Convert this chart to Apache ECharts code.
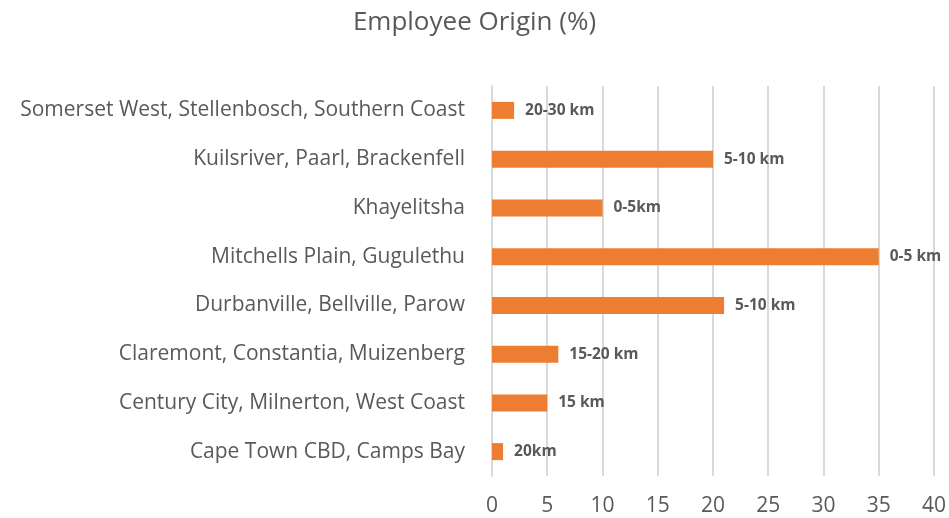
<!DOCTYPE html>
<html>
<head>
<meta charset="utf-8">
<script src="https://cdn.jsdelivr.net/npm/echarts@6/dist/echarts.min.js"></script>
<style>
  html, body { margin: 0; padding: 0; background: #fff; }
  #chart { width: 949px; height: 518px; }
</style>
</head>
<body>
<div id="chart"></div>
<script>
// Areas listed bottom to top (category axis starts at the bottom)
const areas = [
  'Cape Town CBD, Camps Bay',
  'Century City, Milnerton, West Coast',
  'Claremont, Constantia, Muizenberg',
  'Durbanville, Bellville, Parow',
  'Mitchells Plain, Gugulethu',
  'Khayelitsha',
  'Kuilsriver, Paarl, Brackenfell',
  'Somerset West, Stellenbosch, Southern Coast'
];
// Share of employees from each area (%)
const shares = [1, 5, 6, 21, 35, 10, 20, 2];
// Commute distance shown beside each bar
const distances = ['20km', '15 km', '15-20 km', '5-10 km', '0-5 km', '0-5km', '5-10 km', '20-30 km'];

const font = '"Open Sans", Lato, sans-serif';
const chart = echarts.init(document.getElementById('chart'));
chart.setOption({
  backgroundColor: '#ffffff',
  animation: false,
  title: {
    text: 'Employee Origin (%)',
    left: 'center',
    top: 5,
    textStyle: { fontFamily: font, fontSize: 26, fontWeight: 'normal', color: '#595959' }
  },
  grid: { left: 492, right: 13, top: 86, bottom: 42, containLabel: false },
  xAxis: {
    type: 'value',
    min: 0, max: 40, interval: 5,
    axisLine: { show: false },
    axisTick: { show: false },
    splitLine: { lineStyle: { color: '#d9d9d9', width: 2 } },
    axisLabel: { fontFamily: font, fontSize: 21, color: '#595959', margin: 20 }
  },
  yAxis: {
    type: 'category',
    data: areas,
    axisLine: { show: true, lineStyle: { color: '#d9d9d9', width: 2 } },
    axisTick: { show: false },
    axisLabel: { fontFamily: font, fontSize: 21, color: '#595959', margin: 27 }
  },
  series: [{
    type: 'bar',
    data: shares,
    barWidth: 17,
    itemStyle: { color: '#ed7d31' },
    label: {
      show: true,
      position: 'right',
      distance: 11,
      fontFamily: font,
      fontSize: 15.5,
      fontWeight: 'bold',
      color: '#595959',
      formatter: p => distances[p.dataIndex]
    }
  }]
});
</script>
</body>
</html>
